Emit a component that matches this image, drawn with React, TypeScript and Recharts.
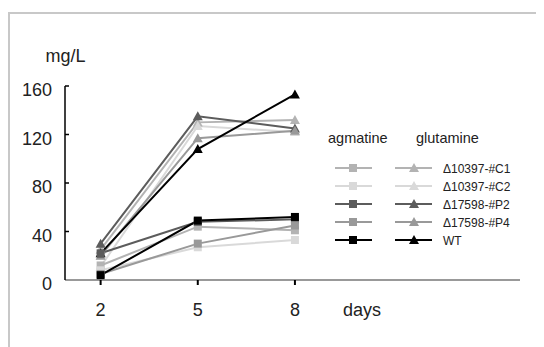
import { Line, LineChart, XAxis, YAxis } from 'recharts';

const days = [2, 5, 8];
const strains = ['Δ10397-#C1', 'Δ10397-#C2', 'Δ17598-#P2', 'Δ17598-#P4', 'WT'];
const strainColors = ['#b3b3b3', '#d9d9d9', '#5c5c5c', '#999999', '#000000'];
// mg/L per strain, one value per day
const agmatine = [
    [12, 44, 41],
    [8, 27, 33],
    [22, 48, 50],
    [5, 30, 45],
    [4, 49, 52],
];
const glutamine = [
    [25, 130, 132],
    [11, 127, 122],
    [30, 135, 125],
    [20, 117, 123],
    [22, 108, 153],
];
const yTicks = [0, 40, 80, 120, 160];

const FONT = '"Liberation Sans", Arial, sans-serif';
const TEXT = '#222';

const data = days.map((day, i) => {
    const row: Record<string, number> = { day };
    strains.forEach((_, j) => {
        row[`agm${j}`] = agmatine[j][i];
        row[`glu${j}`] = glutamine[j][i];
    });
    return row;
});

function square(color: string) {
    return (props: any) => {
        const { cx, cy, index } = props;
        return <rect key={`s${index}`} x={cx - 4} y={cy - 4} width={8} height={8} fill={color} />;
    };
}

function triangle(color: string) {
    return (props: any) => {
        const { cx, cy, index } = props;
        return (
            <polygon
                key={`t${index}`}
                points={`${cx},${cy - 5} ${cx - 5},${cy + 4} ${cx + 5},${cy + 4}`}
                fill={color}
            />
        );
    };
}

function YTick({ x, y, payload }: any) {
    return (
        <g>
            <text x={x - 13} y={y + 10} textAnchor="end" fontSize={18} fill={TEXT} fontFamily={FONT}>
                {payload.value}
            </text>
            {payload.value > 0 && (
                <line x1={x} x2={x + 4} y1={y} y2={y} stroke="#000" strokeWidth={1.5} />
            )}
        </g>
    );
}

function XTick({ x, y, payload }: any) {
    return (
        <text x={x} y={y + 31} textAnchor="middle" fontSize={18} fill={TEXT} fontFamily={FONT}>
            {payload.value}
        </text>
    );
}

function LegendBox() {
    return (
        <svg width={220} height={130} style={{ fontFamily: FONT, display: 'block' }}>
            <text x={8} y={23} fontSize={14.5} fill={TEXT}>
                agmatine
            </text>
            <text x={96} y={23} fontSize={14.5} fill={TEXT}>
                glutamine
            </text>
            {strains.map((name, i) => {
                const y = 48 + i * 18;
                const c = strainColors[i];
                return (
                    <g key={name}>
                        <line x1={15} x2={52} y1={y} y2={y} stroke={c} strokeWidth={2} />
                        <rect x={29} y={y - 4} width={8} height={8} fill={c} />
                        <line x1={75} x2={112} y1={y} y2={y} stroke={c} strokeWidth={2} />
                        <polygon points={`${94},${y - 5} ${89},${y + 4} ${99},${y + 4}`} fill={c} />
                        <text x={123} y={y + 4.5} fontSize={12} fill={TEXT}>
                            {name}
                        </text>
                    </g>
                );
            })}
        </svg>
    );
}

export default function App() {
    return (
        <div style={{ position: 'relative', width: 536, height: 339, fontFamily: FONT }}>
            <div
                style={{
                    position: 'absolute',
                    left: 0,
                    top: 4,
                    width: 534,
                    height: 333,
                    borderLeft: '2px solid #c8c8c8',
                    borderTop: '2px solid #c8c8c8',
                }}
            />
            <LineChart
                width={536}
                height={339}
                data={data}
                margin={{ top: 78, right: 24, left: 0, bottom: 37 }}
            >
                <XAxis
                    dataKey="day"
                    type="number"
                    domain={[0.9, 14.95]}
                    ticks={days}
                    allowDataOverflow
                    height={30}
                    axisLine={{ stroke: '#777', strokeWidth: 1.5 }}
                    tickLine={{ stroke: '#000', strokeWidth: 2 }}
                    tickSize={5}
                    tickMargin={0}
                    tick={<XTick />}
                />
                <YAxis
                    type="number"
                    domain={[0, 160]}
                    ticks={yTicks}
                    interval={0}
                    width={57}
                    axisLine={{ stroke: '#000', strokeWidth: 1.5 }}
                    tickLine={false}
                    tickSize={0}
                    tickMargin={0}
                    tick={<YTick />}
                />
                {strains.map((name, j) => (
                    <Line
                        key={`glu${j}`}
                        dataKey={`glu${j}`}
                        name={`${name} glutamine`}
                        type="linear"
                        stroke={strainColors[j]}
                        strokeWidth={2}
                        dot={triangle(strainColors[j])}
                        activeDot={false}
                        isAnimationActive={false}
                    />
                ))}
                {strains.map((name, j) => (
                    <Line
                        key={`agm${j}`}
                        dataKey={`agm${j}`}
                        name={`${name} agmatine`}
                        type="linear"
                        stroke={strainColors[j]}
                        strokeWidth={2}
                        dot={square(strainColors[j])}
                        activeDot={false}
                        isAnimationActive={false}
                    />
                ))}
            </LineChart>
            <div style={{ position: 'absolute', left: 312, top: 112, pointerEvents: 'none' }}>
                <LegendBox />
            </div>
            <svg
                width={536}
                height={339}
                style={{ position: 'absolute', left: 0, top: 0, pointerEvents: 'none' }}
            >
                <text x={37.5} y={53.5} fontSize={18} fill={TEXT} fontFamily={FONT}>
                    mg/L
                </text>
                <text x={335} y={307.5} fontSize={18} fill={TEXT} fontFamily={FONT}>
                    days
                </text>
            </svg>
        </div>
    );
}
